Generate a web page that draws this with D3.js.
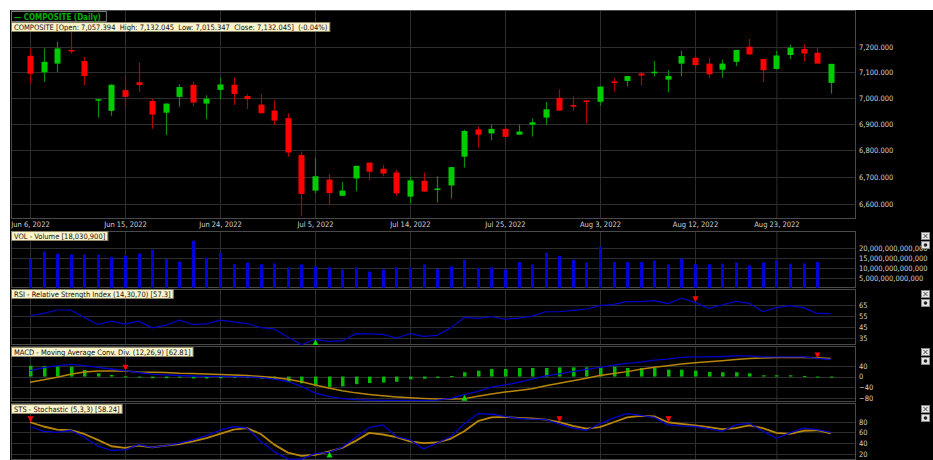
<!DOCTYPE html>
<html>
<head>
<meta charset="utf-8">
<script src="https://cdn.jsdelivr.net/npm/d3@7"></script>
<style>
  body { margin: 0; background: #fff; }
  svg { display: block; }
  text { font-family: "DejaVu Sans Condensed", "Liberation Sans Narrow", "DejaVu Sans", sans-serif; }
</style>
</head>
<body>
<script>
// Trading days shown on the chart
var dates = [
  "2022-06-06","2022-06-07","2022-06-08","2022-06-09","2022-06-10","2022-06-13","2022-06-14","2022-06-15",
  "2022-06-16","2022-06-17","2022-06-20","2022-06-21","2022-06-22","2022-06-23","2022-06-24","2022-06-27",
  "2022-06-28","2022-06-29","2022-06-30","2022-07-01","2022-07-04","2022-07-05","2022-07-06","2022-07-07",
  "2022-07-08","2022-07-11","2022-07-12","2022-07-13","2022-07-14","2022-07-15","2022-07-18","2022-07-19",
  "2022-07-20","2022-07-21","2022-07-22","2022-07-25","2022-07-26","2022-07-27","2022-07-28","2022-07-29",
  "2022-08-01","2022-08-02","2022-08-03","2022-08-04","2022-08-05","2022-08-08","2022-08-09","2022-08-10",
  "2022-08-11","2022-08-12","2022-08-15","2022-08-16","2022-08-18","2022-08-19","2022-08-22","2022-08-23",
  "2022-08-24","2022-08-25","2022-08-26","2022-08-29"
];

// OHLC values
var open = [7164,7099,7133,7187,7143,6989,6949,7029,7060,6987,6942,7003,7050,6977,7030,7050,7006,6973,6950,6921,
  6781,6649,6690,6630,6694,6753,6730,6716,6627,6685,6655,6668,6775,6878,6863,6880,6858,6896,6923,6999,
  6971,6989,6984,7063,7065,7094,7100,7070,7133,7156,7133,7109,7140,7200,7151,7112,7167,7191,7176,7057.394];
var high = [7193,7193,7220,7262,7160,6995,7052,7084,7137,6996,6978,7052,7061,7009,7077,7079,7013,7015,6990,6940,
  6794,6769,6710,6681,6741,6753,6744,6725,6700,6715,6702,6737,6877,6888,6895,6898,6895,6920,6983,7032,
  7005,6989,7044,7075,7084,7100,7143,7107,7184,7163,7156,7149,7187,7231,7151,7183,7207,7209,7196,7132.045];
var low = [7055,7061,7100,7173,7048,6923,6930,6965,7022,6880,6857,6965,6967,6917,6994,6972,6956,6939,6896,6775,
  6557,6639,6596,6630,6647,6687,6702,6630,6602,6644,6606,6620,6734,6809,6837,6850,6858,6851,6895,6950,
  6949,6901,6969,7024,7044,7047,7083,7021,7083,7109,7077,7077,7123,7169,7061,7109,7151,7141,7133,7015.347];
var close = [7093,7140,7193,7183,7084,6994,7050,7003,7049,6935,6977,7041,6981,6996,7051,7014,6994,6940,6912,6791,
  6637,6702,6640,6649,6741,6719,6712,6639,6687,6646,6657,6736,6872,6858,6880,6850,6870,6905,6955,6950,
  6968,6986,7043,7057,7084,7086,7101,7084,7163,7127,7091,7133,7187,7169,7107,7165,7196,7173,7133,7132.045];

// Volume
var volume = [14.7e12,18.3e12,17.2e12,16.8e12,16.8e12,16.7e12,15.5e12,16.2e12,17.3e12,19.3e12,
  14.5e12,13.2e12,23.8e12,15.2e12,17.8e12,12.0e12,12.7e12,11.8e12,12.3e12,10.3e12,
  11.8e12,10.8e12,10.3e12,9.2e12,10.3e12,8.2e12,9.2e12,10.3e12,10.2e12,11.8e12,
  9.5e12,10.8e12,14.2e12,10.0e12,10.3e12,9.2e12,13.0e12,11.8e12,17.8e12,16.2e12,
  14.2e12,12.7e12,20.8e12,13.0e12,13.0e12,13.0e12,13.8e12,11.8e12,14.7e12,11.8e12,
  11.8e12,12.2e12,12.7e12,11.3e12,12.7e12,13.8e12,12.2e12,12.3e12,13.0e12,18030900];

// RSI (14)
var rsi = [55.3,57.4,60.5,60.5,53.8,47.4,50.5,47.7,50.5,44.4,46.8,51.4,47.4,48.0,51.4,49.8,48.3,44.7,43.2,36.2,
  29.2,34.1,32.3,32.6,39.2,38.9,38.6,35.3,39.2,36.8,37.7,44.4,53.8,52.9,54.4,52.3,53.2,55.0,58.9,58.9,
  60.2,61.4,64.4,65.6,68.0,68.0,68.9,66.2,71.1,67.4,62.0,65.0,68.3,66.5,58.9,62.6,64.4,62.6,57.4,57.3];

// MACD (12,26,9)
var macd = [21.8,32.7,40,44.8,40,33.9,27.9,21.8,15,9,6,4,2,1,1,0,-1,-4,-9.7,-18.2,
  -36.4,-60.6,-72.7,-81,-85,-87,-88,-88,-88,-88,-87,-80,-66.7,-54.5,-38.8,-30.3,-21.8,-9.7,2.4,9.7,
  18.2,26.7,33.9,42.4,48.5,53.3,60.6,64.2,70.3,72.7,72.7,73.9,76.4,76.4,72.7,72.7,72.7,72.7,66.7,62.81];
var macdSignal = [-20.6,-12.1,-2.4,8.5,17,20.6,20.6,20.6,17,16,15,12,11,9,8,6,4,0,-3.6,-9.7,
  -19,-31,-42,-52,-60,-66,-71,-75,-78,-81,-83,-83,-81.2,-72.7,-64.2,-57,-50.9,-44.8,-33.9,-24.2,
  -15.8,-6.1,3.6,10.9,18.2,26.7,33.9,40,46,50.9,54.5,58.2,63,66.7,67.9,70.3,70.3,70.3,69.1,66.7];
var macdHist = [40,38.8,36.4,36.4,24.2,12.1,6.1,1,-2,-6,-6,-4,-7,-7,-6,-5,-5,-8,-10,-20,
  -25,-35,-38,-36,-28,-24,-22,-19,-10,-8,-5,2,15.8,21.8,27.9,27.9,31.5,31.5,31.5,33.9,
  33.9,33.9,33.9,36.4,31.5,31.5,31.5,25.5,25.5,21.8,17,15.8,15.8,12.1,4.8,4.8,4.8,2.4,-1.5,-4];

// Stochastic (5,3,3)
var stochK = [71,62,60,64,51,34,26,27,37,32,35,40,46,54,64,71,68,43,24,10,
  10,20,22.5,32,51,69,74,52,46,29,40,52,76,95,94,90,86,85,84,76,
  68,64,76,87,95,92,88,74,72,71,67,62,74,77,62,49,59,68,65,60];
var stochD = [79,71,65,64,57,46,34,31,35,32,35,38,43,49,57,65,68,57,37,22,
  16,18,24,31,44,59,56,51,43,40,41,48,62,81,88,89,87,86,84,79,
  72,67,70,79,88,91,90,79,76,73,70,66,68,73,68,59,57,63,64,58.24];

// Signal markers (date, direction)
var rsiMarkers = [["2022-07-05", "up"], ["2022-08-12", "down"]];
var macdMarkers = [["2022-06-15", "down"], ["2022-07-20", "up"], ["2022-08-26", "down"]];
var stsMarkers = [["2022-06-06", "down"], ["2022-07-06", "up"], ["2022-07-29", "down"], ["2022-08-10", "down"]];

// Tick labels
var dateTicks = ["2022-06-06","2022-06-15","2022-06-24","2022-07-05","2022-07-14","2022-07-25","2022-08-03","2022-08-12","2022-08-23"];
var priceTicks = [6600, 6700, 6800, 6900, 7000, 7100, 7200];
var volumeTicks = [5e12, 10e12, 15e12, 20e12];
var rsiTicks = [35, 45, 55, 65];
var macdTicks = [-80, -40, 0, 40];
var stsTicks = [20, 40, 60, 80];

// Legend texts
var headerText = "\u2014 COMPOSITE (Daily)";
var priceLegend = "COMPOSITE [Open: 7,057.394  High: 7,132.045  Low: 7,015.347  Close: 7,132.045]  (-0.04%)";
var volLegend = "VOL - Volume [18,030,900]";
var rsiLegend = "RSI - Relative Strength Index (14,30,70) [57.3]";
var macdLegend = "MACD - Moving Average Conv. Div. (12,26,9) [62.81]";
var stsLegend = "STS - Stochastic (5,3,3) [58.24]";

// ---------------------------------------------------------------
var svgWidth = 933;
var svgHeight = 460;
var plotLeft = 12;
var plotRight = 856;

var svg = d3.select("body")
  .append("svg")
  .attr("width", svgWidth)
  .attr("height", svgHeight);

// black chart background
svg.append("rect")
  .attr("x", 10).attr("y", 10)
  .attr("width", svgWidth - 10).attr("height", svgHeight - 10)
  .attr("fill", "#000");

var parseDate = d3.timeParse("%Y-%m-%d");
var fmtDate = d3.timeFormat("%b %-d, %Y");

var xScale = d3.scalePoint()
  .domain(dates)
  .range([30, 830.7]);

// panel frames
var panels = [
  { name: "price", top: 10, bottom: 219 },
  { name: "vol", top: 231, bottom: 288 },
  { name: "rsi", top: 289, bottom: 345 },
  { name: "macd", top: 346, bottom: 402 },
  { name: "sts", top: 403, bottom: 460 }
];

var yPrice = d3.scaleLog().domain([6600, 7200]).range([204, 46.7]);
var yVol = d3.scaleLinear().domain([0, 20e12]).range([287.7, 248.3]);
var yRsi = d3.scaleLinear().domain([35, 65]).range([338.3, 305]);
var yMacd = d3.scaleLinear().domain([-80, 40]).range([398.3, 365.7]);
var ySts = d3.scaleLinear().domain([20, 80]).range([453.7, 421.7]);

var gridColor = "#2e2e2e";
var labelColor = "#d2d2d2";

// clip paths
var defs = svg.append("defs");
panels.forEach(function(p) {
  defs.append("clipPath").attr("id", "clip-" + p.name)
    .append("rect")
    .attr("x", plotLeft).attr("y", p.top)
    .attr("width", plotRight - plotLeft).attr("height", p.bottom - p.top);
});

// grid + frame + right axis for one panel
function drawPanel(p, yScale, ticks, fmt) {
  var g = svg.append("g");

  g.selectAll(".vgrid")
    .data(dateTicks)
    .enter()
    .append("line")
    .attr("x1", d => xScale(d) + 0.5).attr("x2", d => xScale(d) + 0.5)
    .attr("y1", p.top).attr("y2", p.bottom)
    .attr("stroke", gridColor);

  g.selectAll(".hgrid")
    .data(ticks)
    .enter()
    .append("line")
    .attr("x1", plotLeft).attr("x2", plotRight)
    .attr("y1", d => Math.round(yScale(d)) + 0.5).attr("y2", d => Math.round(yScale(d)) + 0.5)
    .attr("stroke", gridColor);

  g.append("rect")
    .attr("x", plotLeft - 0.5).attr("y", p.top + 0.5)
    .attr("width", plotRight - plotLeft).attr("height", p.bottom - p.top - 1)
    .attr("fill", "none")
    .attr("stroke", "#4a4a4a");

  var axis = d3.axisRight(yScale)
    .tickValues(ticks)
    .tickFormat(fmt)
    .tickSize(0)
    .tickPadding(3);

  var ag = svg.append("g")
    .attr("transform", `translate(${plotRight}, 0)`)
    .call(axis);
  ag.select(".domain").remove();
  ag.selectAll("text")
    .attr("fill", labelColor)
    .style("font-size", "7.5px");
}

drawPanel(panels[0], yPrice, priceTicks, d3.format(",.3f"));
drawPanel(panels[1], yVol, volumeTicks, d3.format(",.0f"));
drawPanel(panels[2], yRsi, rsiTicks, d3.format("d"));
drawPanel(panels[3], yMacd, macdTicks, d3.format("d"));
drawPanel(panels[4], ySts, stsTicks, d3.format("d"));

// date axis under the price panel
var xAxis = d3.axisBottom(xScale)
  .tickValues(dateTicks)
  .tickFormat(d => fmtDate(parseDate(d)))
  .tickSize(0)
  .tickPadding(3);

var xg = svg.append("g")
  .attr("transform", "translate(0, 219)")
  .call(xAxis);
xg.select(".domain").remove();
xg.selectAll("text")
  .attr("fill", labelColor)
  .style("font-size", "7.5px");

// candles
var candles = svg.append("g").attr("clip-path", "url(#clip-price)");
var upBody = "#00cc00", downBody = "#ff0000";
var upWick = "#0c8a0c", downWick = "#b00000";

candles.selectAll(".wick")
  .data(dates)
  .enter()
  .append("line")
  .attr("x1", d => Math.round(xScale(d)) + 0.5)
  .attr("x2", d => Math.round(xScale(d)) + 0.5)
  .attr("y1", (d, i) => yPrice(high[i]))
  .attr("y2", (d, i) => yPrice(low[i]))
  .attr("stroke", (d, i) => close[i] >= open[i] ? upWick : downWick)
  .attr("stroke-width", 1.2);

candles.selectAll(".body")
  .data(dates)
  .enter()
  .append("rect")
  .attr("x", d => Math.round(xScale(d)) - 2.5)
  .attr("width", 6)
  .attr("y", (d, i) => yPrice(Math.max(open[i], close[i])))
  .attr("height", (d, i) => Math.max(1.5, yPrice(Math.min(open[i], close[i])) - yPrice(Math.max(open[i], close[i]))))
  .attr("fill", (d, i) => close[i] >= open[i] ? upBody : downBody);

// volume bars
svg.append("g").attr("clip-path", "url(#clip-vol)")
  .selectAll(".bar")
  .data(volume)
  .enter()
  .append("rect")
  .attr("x", (d, i) => Math.round(xScale(dates[i])) - 1)
  .attr("width", 3)
  .attr("y", d => yVol(d))
  .attr("height", d => yVol(0) - yVol(d))
  .attr("fill", "#0000dd");

// line helper
function drawLine(clip, values, yScale, color, width) {
  var line = d3.line()
    .x((d, i) => xScale(dates[i]))
    .y(d => yScale(d));
  svg.append("g").attr("clip-path", "url(#clip-" + clip + ")")
    .append("path")
    .datum(values)
    .attr("d", line)
    .attr("fill", "none")
    .attr("stroke", color)
    .attr("stroke-width", width)
    .attr("stroke-linejoin", "round");
}

// markers helper: triangle tip sits on the series value
function drawMarkers(clip, markers, values, yScale) {
  svg.append("g").attr("clip-path", "url(#clip-" + clip + ")")
    .selectAll("path")
    .data(markers)
    .enter()
    .append("path")
    .attr("d", function(m) {
      var x = Math.round(xScale(m[0])) + 0.5;
      var y = yScale(values[dates.indexOf(m[0])]);
      return m[1] === "down"
        ? `M${x - 3},${y - 6}L${x + 3},${y - 6}L${x},${y}Z`
        : `M${x - 3},${y + 6}L${x + 3},${y + 6}L${x},${y}Z`;
    })
    .attr("fill", m => m[1] === "down" ? "#ff0000" : "#00dd00");
}

// RSI
drawLine("rsi", rsi, yRsi, "#0000cc", 1.2);
drawMarkers("rsi", rsiMarkers, rsi, yRsi);

// MACD histogram + lines
svg.append("g").attr("clip-path", "url(#clip-macd)")
  .selectAll(".hist")
  .data(macdHist)
  .enter()
  .append("rect")
  .attr("x", (d, i) => Math.round(xScale(dates[i])) - 1)
  .attr("width", 3.5)
  .attr("y", d => yMacd(Math.max(0, d)))
  .attr("height", d => Math.max(1, Math.abs(yMacd(d) - yMacd(0))))
  .attr("fill", "#00bb00");

drawLine("macd", macdSignal, yMacd, "#b8860b", 1.5);
drawLine("macd", macd, yMacd, "#0000cc", 1.3);
drawMarkers("macd", macdMarkers, macd, yMacd);

// Stochastic
drawLine("sts", stochD, ySts, "#b8860b", 1.8);
drawLine("sts", stochK, ySts, "#0000cc", 1.3);
drawMarkers("sts", stsMarkers, stochD, ySts);

// header label
var header = svg.append("g");
var ht = header.append("text")
  .attr("x", 14).attr("y", 19.5)
  .attr("fill", "#00b000")
  .style("font-size", "8px")
  .style("font-weight", "bold")
  .text(headerText);
header.insert("rect", "text")
  .attr("x", 11.5).attr("y", 11.5)
  .attr("width", ht.node().getComputedTextLength() + 8).attr("height", 10)
  .attr("fill", "#000")
  .attr("stroke", "#777");

// beige legend boxes
function drawLegend(txt, y) {
  var g = svg.append("g");
  var t = g.append("text")
    .attr("x", 14).attr("y", y + 7.5)
    .attr("fill", "#111")
    .style("font-size", "7.5px")
    .style("white-space", "pre")
    .text(txt);
  g.insert("rect", "text")
    .attr("x", 11.5).attr("y", y + 0.5)
    .attr("width", t.node().getComputedTextLength() + 5).attr("height", 9)
    .attr("fill", "#fbf3cc")
    .attr("stroke", "#8c8466");
}

drawLegend(priceLegend, 22);
drawLegend(volLegend, 231);
drawLegend(rsiLegend, 289);
drawLegend(macdLegend, 347);
drawLegend(stsLegend, 404);

// small close / settings buttons on the right of each indicator
[231, 289, 347, 404].forEach(function(y) {
  var g = svg.append("g").attr("transform", `translate(921.5, ${y + 1.5})`);
  g.append("rect").attr("width", 8).attr("height", 7)
    .attr("fill", "#e6e6e6").attr("stroke", "#888");
  g.append("path").attr("d", "M2,1.5L6,5.5M6,1.5L2,5.5")
    .attr("stroke", "#333").attr("stroke-width", 0.9);
  g.append("rect").attr("y", 9).attr("width", 8).attr("height", 7)
    .attr("fill", "#e6e6e6").attr("stroke", "#888");
  g.append("circle").attr("cx", 4).attr("cy", 12.5).attr("r", 1.8)
    .attr("fill", "#222");
});
</script>
</body>
</html>
